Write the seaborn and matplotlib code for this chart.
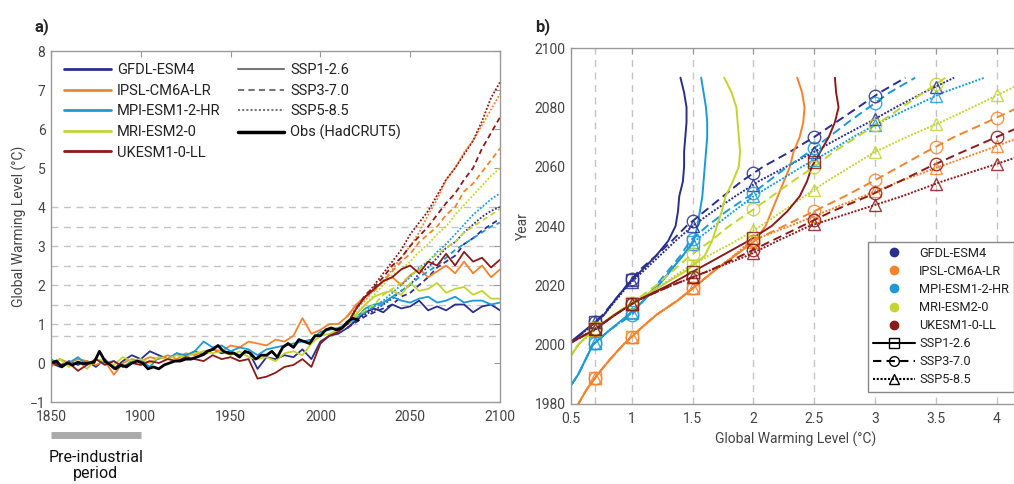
import numpy as np
import pandas as pd
import matplotlib
matplotlib.use("Agg")
import matplotlib.pyplot as plt
import matplotlib.transforms as mtransforms
from matplotlib.lines import Line2D
import seaborn as sns

models = ["GFDL-ESM4", "IPSL-CM6A-LR", "MPI-ESM1-2-HR", "MRI-ESM2-0", "UKESM1-0-LL"]
scenarios = ["SSP1-2.6", "SSP3-7.0", "SSP5-8.5"]
model_colors = ["#2b2f8c", "#f5832c", "#1d9ad6", "#c3d42f", "#8b1a1a"]
gwl_levels = [0.7, 1, 1.5, 2, 2.5, 3, 3.5, 4]
preind_period = [1850, 1900]

# ---- panel a: annual GWL (sampled every 5 years), historical part
hist_years = list(range(1850, 2016, 5))
gfdl_hist = [0.0, -0.1, 0.05, -0.05, 0.05, -0.1, 0.1, -0.15, 0.05, 0.2,
             0.1, 0.3, 0.2, 0.1, 0.25, 0.15, 0.3, 0.2, 0.35, 0.25,
             0.3, 0.2, 0.3, -0.15, 0.15, 0.1, 0.2, 0.15, 0.35, 0.1,
             0.55, 0.7, 0.75, 0.9]
ipsl_hist = [-0.1, 0.1, 0.0, 0.1, 0.05, -0.05, 0.05, -0.3, 0.0, 0.1,
             0.05, 0.15, 0.1, 0.2, 0.1, 0.25, 0.2, 0.3, 0.35, 0.3,
             0.45, 0.4, 0.55, 0.5, 0.45, 0.6, 0.55, 0.7, 1.15, 0.75,
             0.85, 1.0, 1.0, 1.2]
mpi_hist = [0.1, -0.05, 0.0, 0.15, -0.05, 0.1, 0.0, 0.05, -0.1, 0.05,
            0.1, -0.1, 0.15, 0.1, 0.25, 0.2, 0.3, 0.55, 0.4, 0.45,
            0.3, 0.4, 0.35, 0.2, 0.35, 0.4, 0.45, 0.5, 0.55, 0.6,
            0.8, 0.85, 0.9, 1.0]
mri_hist = [0.0, 0.1, -0.1, 0.05, -0.15, 0.1, 0.05, -0.05, 0.15, 0.05,
            0.1, 0.0, 0.15, 0.1, 0.2, 0.15, 0.25, 0.3, 0.25, 0.3,
            0.2, 0.3, 0.15, 0.1, 0.15, 0.05, 0.25, 0.3, 0.2, 0.5,
            0.7, 0.75, 0.85, 1.0]
ukesm_hist = [0.0, -0.05, 0.0, -0.2, -0.05, 0.1, -0.05, 0.05, -0.1, 0.0,
              -0.05, 0.05, 0.0, 0.1, 0.05, 0.15, 0.1, 0.05, 0.2, 0.1,
              0.15, 0.05, 0.1, -0.4, -0.35, -0.25, -0.1, -0.05, 0.1, -0.1,
              0.5, 0.7, 0.8, 1.0]

# scenario part
scen_years = list(range(2015, 2101, 5))
gfdl_126 = [0.9, 1.1, 1.3, 1.4, 1.3, 1.5, 1.4, 1.45, 1.6, 1.35, 1.45, 1.35, 1.5, 1.5, 1.3, 1.45, 1.5, 1.35]
gfdl_370 = [0.9, 1.05, 1.2, 1.3, 1.4, 1.5, 1.7, 1.8, 2.0, 2.2, 2.45, 2.6, 2.75, 3.05, 3.2, 3.4, 3.55, 3.7]
gfdl_585 = [0.9, 1.1, 1.25, 1.35, 1.5, 1.65, 1.85, 2.0, 2.3, 2.45, 2.7, 2.95, 3.1, 3.35, 3.55, 3.75, 3.9, 4.0]
ipsl_126 = [1.2, 1.5, 1.7, 1.9, 2.1, 2.2, 2.0, 2.25, 2.4, 2.2, 2.35, 2.5, 2.3, 2.6, 2.3, 2.5, 2.2, 2.4]
ipsl_370 = [1.2, 1.5, 1.7, 1.85, 2.1, 2.35, 2.6, 2.8, 3.1, 3.3, 3.5, 3.8, 4.0, 4.4, 4.6, 4.9, 5.2, 5.5]
ipsl_585 = [1.2, 1.4, 1.6, 1.9, 2.1, 2.4, 2.7, 3.0, 3.35, 3.8, 4.2, 4.7, 5.0, 5.4, 5.7, 6.1, 6.5, 6.9]
mpi_126 = [1.0, 1.15, 1.4, 1.5, 1.55, 1.7, 1.6, 1.55, 1.65, 1.7, 1.55, 1.6, 1.7, 1.55, 1.6, 1.6, 1.5, 1.55]
mpi_370 = [1.0, 1.15, 1.3, 1.45, 1.5, 1.7, 1.85, 2.0, 2.2, 2.35, 2.5, 2.7, 2.9, 3.05, 3.2, 3.35, 3.5, 3.6]
mpi_585 = [1.0, 1.2, 1.35, 1.45, 1.6, 1.8, 2.0, 2.2, 2.45, 2.6, 2.85, 3.05, 3.3, 3.55, 3.8, 4.0, 4.2, 4.35]
mri_126 = [1.0, 1.25, 1.5, 1.7, 1.8, 1.85, 1.75, 2.05, 1.85, 1.9, 2.05, 1.8, 1.9, 1.95, 1.75, 1.85, 1.65, 1.65]
mri_370 = [1.0, 1.2, 1.35, 1.5, 1.75, 1.9, 2.05, 2.25, 2.4, 2.6, 2.8, 2.95, 3.1, 3.35, 3.5, 3.65, 3.8, 3.95]
mri_585 = [1.0, 1.3, 1.5, 1.75, 2.0, 2.25, 2.4, 2.6, 2.85, 3.05, 3.3, 3.5, 3.8, 4.05, 4.3, 4.55, 4.8, 5.0]
ukesm_126 = [1.0, 1.4, 1.7, 1.9, 2.1, 2.2, 2.4, 2.5, 2.3, 2.6, 2.5, 2.8, 2.5, 2.85, 2.6, 2.7, 2.45, 2.65]
ukesm_370 = [1.0, 1.4, 1.75, 1.95, 2.2, 2.5, 2.7, 3.0, 3.25, 3.5, 3.8, 4.1, 4.35, 4.7, 5.0, 5.5, 5.9, 6.3]
ukesm_585 = [1.0, 1.4, 1.7, 2.0, 2.3, 2.6, 2.9, 3.3, 3.6, 3.9, 4.3, 4.7, 5.0, 5.35, 5.7, 6.2, 6.8, 7.2]

# observations (every 3 years)
obs_years = list(range(1850, 2022, 3))
obs_gwl = [0.0, 0.05, -0.1, 0.0, -0.05, 0.02, -0.02, 0.0, 0.02, 0.3,
           0.05, -0.05, -0.15, -0.05, -0.1, 0.0, 0.05, 0.0, -0.15, -0.1,
           -0.15, -0.05, 0.0, 0.05, 0.05, 0.1, 0.1, 0.15, 0.2, 0.3,
           0.35, 0.45, 0.3, 0.25, 0.25, 0.15, 0.3, 0.25, 0.1, 0.2,
           0.2, 0.3, 0.15, 0.4, 0.5, 0.4, 0.6, 0.55, 0.5, 0.7,
           0.7, 0.85, 0.9, 0.85, 0.9, 1.05, 1.15, 1.1]

# ---- panel b: 20-yr mean GWL against central year
b_years = list(range(1975, 2091, 5))
gfdl_126_b = [0.15, 0.2, 0.28, 0.36, 0.42, 0.47, 0.62, 0.77, 0.86, 0.96, 1.08, 1.2, 1.3, 1.36, 1.38, 1.39, 1.42, 1.43, 1.43, 1.44, 1.45, 1.45, 1.43, 1.40]
gfdl_370_b = [0.15, 0.2, 0.28, 0.36, 0.42, 0.47, 0.63, 0.76, 0.86, 0.96, 1.06, 1.2, 1.33, 1.45, 1.6, 1.75, 1.9, 2.08, 2.3, 2.5, 2.68, 2.86, 3.04, 3.25]
gfdl_585_b = [0.15, 0.2, 0.28, 0.36, 0.42, 0.47, 0.63, 0.77, 0.87, 0.97, 1.1, 1.23, 1.36, 1.5, 1.67, 1.85, 2.04, 2.27, 2.5, 2.72, 2.95, 3.17, 3.4, 3.65]
ipsl_126_b = [0.5, 0.56, 0.63, 0.72, 0.82, 0.93, 1.06, 1.2, 1.38, 1.53, 1.68, 1.85, 2.01, 2.1, 2.15, 2.2, 2.25, 2.3, 2.33, 2.38, 2.41, 2.42, 2.4, 2.36]
ipsl_370_b = [0.5, 0.56, 0.63, 0.72, 0.82, 0.93, 1.06, 1.2, 1.38, 1.53, 1.68, 1.84, 2.0, 2.25, 2.5, 2.75, 2.98, 3.2, 3.42, 3.65, 3.92, 4.18, 4.45, 4.7]
ipsl_585_b = [0.5, 0.56, 0.63, 0.72, 0.82, 0.93, 1.06, 1.2, 1.38, 1.53, 1.68, 1.84, 1.98, 2.3, 2.6, 2.9, 3.2, 3.53, 3.87, 4.2, 4.5, 4.8, 5.1, 5.4]
mpi_126_b = [0.32, 0.4, 0.48, 0.56, 0.62, 0.68, 0.82, 0.97, 1.1, 1.22, 1.32, 1.42, 1.51, 1.54, 1.56, 1.58, 1.59, 1.6, 1.61, 1.62, 1.62, 1.61, 1.59, 1.57]
mpi_370_b = [0.32, 0.4, 0.48, 0.56, 0.62, 0.68, 0.82, 1.0, 1.1, 1.2, 1.3, 1.4, 1.48, 1.62, 1.78, 1.96, 2.12, 2.28, 2.46, 2.62, 2.78, 2.95, 3.12, 3.33]
mpi_585_b = [0.32, 0.4, 0.48, 0.56, 0.62, 0.68, 0.82, 0.98, 1.1, 1.22, 1.32, 1.42, 1.52, 1.68, 1.84, 2.0, 2.2, 2.4, 2.62, 2.82, 3.04, 3.3, 3.56, 3.9]
mri_126_b = [0.22, 0.3, 0.38, 0.44, 0.48, 0.56, 0.68, 0.85, 1.04, 1.25, 1.45, 1.6, 1.66, 1.7, 1.74, 1.77, 1.83, 1.88, 1.89, 1.88, 1.87, 1.86, 1.82, 1.76]
mri_370_b = [0.22, 0.3, 0.38, 0.44, 0.48, 0.56, 0.69, 0.85, 1.03, 1.2, 1.34, 1.48, 1.65, 1.8, 1.98, 2.15, 2.32, 2.5, 2.66, 2.85, 3.04, 3.22, 3.4, 3.58]
mri_585_b = [0.22, 0.3, 0.38, 0.44, 0.48, 0.56, 0.7, 0.86, 1.05, 1.24, 1.42, 1.63, 1.86, 2.06, 2.24, 2.42, 2.6, 2.8, 3.0, 3.26, 3.54, 3.8, 4.05, 4.3]
ukesm_126_b = [0.2, 0.25, 0.3, 0.36, 0.42, 0.47, 0.69, 0.86, 1.05, 1.3, 1.52, 1.74, 1.96, 2.15, 2.28, 2.38, 2.44, 2.48, 2.55, 2.62, 2.67, 2.7, 2.68, 2.67]
ukesm_370_b = [0.2, 0.25, 0.3, 0.36, 0.42, 0.47, 0.69, 0.86, 1.05, 1.33, 1.64, 1.9, 2.15, 2.4, 2.65, 2.94, 3.2, 3.45, 3.72, 4.0, 4.28, 4.55, 4.82, 5.1]
ukesm_585_b = [0.2, 0.25, 0.3, 0.36, 0.42, 0.47, 0.69, 0.86, 1.05, 1.33, 1.64, 1.95, 2.2, 2.46, 2.84, 3.22, 3.55, 3.93, 4.3, 4.65, 5.0, 5.35, 5.7, 6.0]

hist_by_model = [gfdl_hist, ipsl_hist, mpi_hist, mri_hist, ukesm_hist]
scen_by_model = [[gfdl_126, gfdl_370, gfdl_585], [ipsl_126, ipsl_370, ipsl_585],
                 [mpi_126, mpi_370, mpi_585], [mri_126, mri_370, mri_585],
                 [ukesm_126, ukesm_370, ukesm_585]]
b_by_model = [[gfdl_126_b, gfdl_370_b, gfdl_585_b], [ipsl_126_b, ipsl_370_b, ipsl_585_b],
              [mpi_126_b, mpi_370_b, mpi_585_b], [mri_126_b, mri_370_b, mri_585_b],
              [ukesm_126_b, ukesm_370_b, ukesm_585_b]]

# long tables
rows_a = []
for m, h, sc in zip(models, hist_by_model, scen_by_model):
    rows_a.append(pd.DataFrame({"model": m, "scenario": "historical", "year": hist_years, "gwl": h}))
    for s, v in zip(scenarios, sc):
        rows_a.append(pd.DataFrame({"model": m, "scenario": s, "year": scen_years, "gwl": v}))
df_a = pd.concat(rows_a, ignore_index=True)

rows_b = []
for m, sc in zip(models, b_by_model):
    for s, v in zip(scenarios, sc):
        rows_b.append(pd.DataFrame({"model": m, "scenario": s, "year": b_years, "gwl": v}))
df_b = pd.concat(rows_b, ignore_index=True)

palette = dict(zip(models, model_colors))
scen_markers = {"SSP1-2.6": "s", "SSP3-7.0": "o", "SSP5-8.5": "^"}

sns.set_theme(style="white")
plt.rcParams["font.family"] = ["Roboto", "DejaVu Sans"]
tick_col = "#444444"
spine_col = "#999999"
grid_col = "#c4c4c4"

fig = plt.figure(figsize=(10.14, 4.84), dpi=100)
ax_a = fig.add_axes([0.0503, 0.1694, 0.4428, 0.7252])
ax_b = fig.add_axes([0.5631, 0.1653, 0.4438, 0.7355])

# ---------------- panel a
for lev in gwl_levels:
    ax_a.axhline(lev, color=grid_col, lw=1, dashes=(5, 4), zorder=0)

sns.lineplot(data=df_a, x="year", y="gwl", hue="model", style="scenario",
             palette=palette,
             dashes={"historical": "", "SSP1-2.6": "", "SSP3-7.0": (3, 2), "SSP5-8.5": (1, 1)},
             estimator=None, lw=1.3, legend=False, ax=ax_a)
sns.lineplot(x=obs_years, y=obs_gwl, color="black", lw=2, estimator=None, ax=ax_a)

ax_a.set_xlim(1850, 2100)
ax_a.set_ylim(-1, 8)
ax_a.set_xticks(range(1850, 2101, 50))
ax_a.set_yticks(range(-1, 9))
ax_a.set_xlabel("")
ax_a.set_ylabel("Global Warming Level (°C)", fontsize=10, color=tick_col, labelpad=2)

hand_a = [Line2D([], [], color=c, lw=2) for c in model_colors]
hand_a += [Line2D([], [], color="#777777", lw=1.5, ls="-"),
           Line2D([], [], color="#777777", lw=1.5, dashes=(3, 2)),
           Line2D([], [], color="#777777", lw=1.5, dashes=(1, 1)),
           Line2D([], [], color="black", lw=2.5)]
lab_a = models + scenarios + ["Obs (HadCRUT5)"]
ax_a.legend(hand_a, lab_a, ncol=2, frameon=False, loc="upper left",
            bbox_to_anchor=(0.01, 0.99), fontsize=10.5, handlelength=3.2,
            handletextpad=0.4, labelspacing=0.45, columnspacing=1.2,
            borderaxespad=0.2, labelcolor="#222222")

# pre-industrial bar under the axis
trans = mtransforms.blended_transform_factory(ax_a.transData, ax_a.transAxes)
ax_a.plot(preind_period, [-0.094, -0.094], color="#aaaaaa", lw=5, transform=trans,
          clip_on=False, solid_capstyle="butt")
ax_a.text(np.mean(preind_period), -0.18, "Pre-industrial\nperiod", transform=trans,
          ha="center", va="center", fontsize=11.5, color="#111111", linespacing=1.1)

fig.text(0.0345, 0.945, "a)", fontsize=12, fontweight="bold", ha="left", va="center")

# ---------------- panel b
for lev in gwl_levels:
    ax_b.axvline(lev, color=grid_col, lw=1, dashes=(5, 4), zorder=0)

sns.lineplot(data=df_b, x="gwl", y="year", hue="model", style="scenario",
             palette=palette, sort=False, estimator=None,
             dashes={"SSP1-2.6": "", "SSP3-7.0": (4.5, 2.5), "SSP5-8.5": (1, 0.8)},
             lw=1.4, legend=False, ax=ax_b)

# markers where each curve first reaches a warming level
for m, c, sc in zip(models, model_colors, b_by_model):
    for s, v in zip(scenarios, sc):
        g = np.array(v, dtype=float)
        y = np.array(b_years, dtype=float)
        xs, ys = [], []
        for lev in gwl_levels:
            idx = np.argmax(g >= lev)
            if g[idx] < lev or idx == 0:
                continue
            yr = y[idx - 1] + (lev - g[idx - 1]) / (g[idx] - g[idx - 1]) * (y[idx] - y[idx - 1])
            xs.append(lev)
            ys.append(yr)
        ax_b.plot(xs, ys, ls="none", marker=scen_markers[s], mfc="none", mec=c,
                  ms=9, mew=1.0, alpha=0.85)

ax_b.set_xlim(0.5, 4.2)
ax_b.set_ylim(1980, 2100)
ax_b.set_xticks([0.5, 1, 1.5, 2, 2.5, 3, 3.5, 4])
ax_b.set_xticklabels(["0.5", "1", "1.5", "2", "2.5", "3", "3.5", "4"])
ax_b.set_yticks(range(1980, 2101, 20))
ax_b.set_xlabel("Global Warming Level (°C)", fontsize=10, color=tick_col, labelpad=4)
ax_b.set_ylabel("Year", fontsize=10, color=tick_col, labelpad=3)

hand_b = [Line2D([], [], ls="none", marker="o", color=c, ms=6) for c in model_colors]
hand_b += [Line2D([], [], color="black", lw=1.5, ls="-", marker="s", mfc="none", ms=7),
           Line2D([], [], color="black", lw=1.5, dashes=(4, 2.5), marker="o", mfc="none", ms=7),
           Line2D([], [], color="black", lw=1.5, dashes=(1, 0.8), marker="^", mfc="none", ms=7)]
leg_b = ax_b.legend(hand_b, models + scenarios, loc="lower right",
                    bbox_to_anchor=(0.985, 0.035), borderaxespad=0, fontsize=9.2,
                    handlelength=3.3, handletextpad=0.3, labelspacing=0.4,
                    fancybox=False, framealpha=1, edgecolor="#888888",
                    labelcolor="#222222", borderpad=0.4)
leg_b.get_frame().set_linewidth(1)

fig.text(0.5275, 0.945, "b)", fontsize=12, fontweight="bold", ha="left", va="center")

for ax in (ax_a, ax_b):
    ax.tick_params(direction="in", top=True, right=True, length=4, width=0.8,
                   colors=spine_col, labelcolor=tick_col, labelsize=10)
    ax.tick_params(axis="x", pad=6)
    ax.tick_params(axis="y", pad=4)
    for sp in ax.spines.values():
        sp.set_color(spine_col)
        sp.set_linewidth(1)

fig.savefig("out.png", dpi=100)
